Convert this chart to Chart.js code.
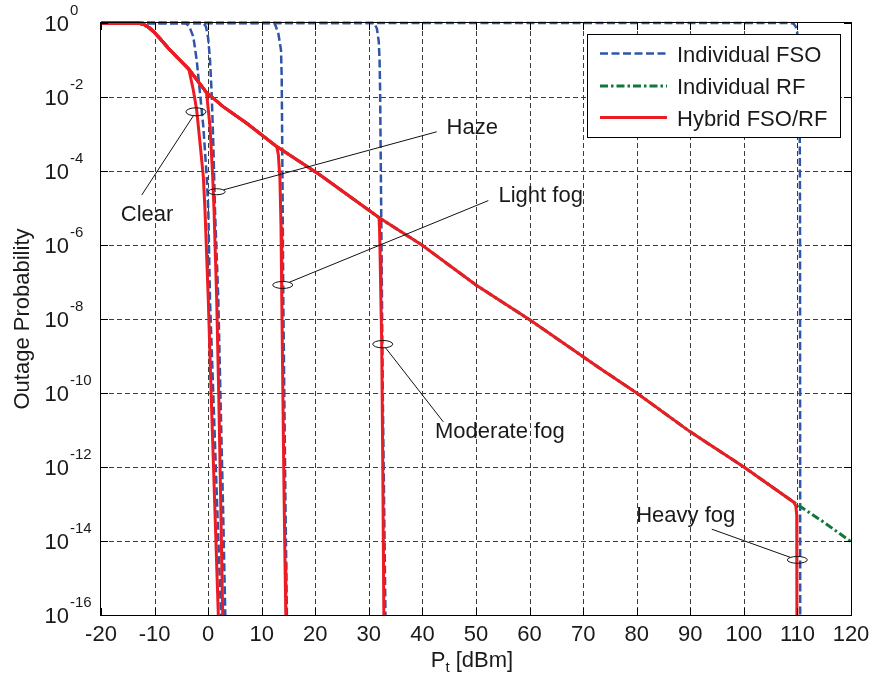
<!DOCTYPE html>
<html>
<head>
<meta charset="utf-8">
<script src="https://cdn.jsdelivr.net/npm/chart.js@4.4.0/dist/chart.umd.min.js"></script>
<style>
  html, body { margin: 0; padding: 0; background: #fff; }
  #wrap { width: 874px; height: 686px; }
</style>
</head>
<body>
<div id="wrap"><canvas id="outageChart" width="874" height="686"></canvas></div>
<script>
// axis ticks: transmit power [dBm] and outage probability exponents
var xTicks = [-20, -10, 0, 10, 20, 30, 40, 50, 60, 70, 80, 90, 100, 110, 120];
var yExpTicks = [0, -2, -4, -6, -8, -10, -12, -14, -16];

var seriesNames = ['Individual FSO', 'Individual RF', 'Hybrid FSO/RF'];

// individual RF link, log10(outage) vs Pt
var rfX   = [-20, -13, -12, -11, -10.2, -9, -7.5, -5.9, -3.6, -0.3, 2.8, 7.2, 12.8, 20.9, 32.1, 39.9, 50, 60.1, 73.1, 80, 90, 100, 109.3, 115, 120];
var rfExp = [0, 0, -0.04, -0.13, -0.23, -0.42, -0.67, -0.91, -1.25, -1.88, -2.26, -2.71, -3.34, -4.11, -5.28, -6.0, -7.08, -8.03, -9.33, -10.0, -11.05, -12.0, -12.95, -13.5, -14.02];

// individual FSO link, one curve per weather condition
var fsoClearX   = [-20, -4.2, -3.5, -2.77, -2.14, -1.52, -0.9, -0.27, 0.03, 0.35, 1.0, 1.7, 2.4];
var fsoClearExp = [0, 0, -0.1, -0.37, -1.0, -1.9, -2.8, -4.15, -5.05, -7.49, -10.2, -13.1, -16];
var fsoHazeX    = [-20, -0.9, -0.4, 0.0, 0.35, 0.66, 0.96, 1.28, 1.9, 2.35, 2.8, 3.2];
var fsoHazeExp  = [0, 0, -0.1, -0.4, -1.0, -1.9, -3.25, -5.05, -7.49, -10.4, -13.2, -16];
var fsoLightX   = [-20, 12.4, 13.1, 13.6, 13.73, 13.92, 14.03, 14.25, 14.45, 14.7];
var fsoLightExp = [0, 0, -0.28, -0.73, -1.45, -5.05, -7.49, -10.5, -13.2, -16];
var fsoModX     = [-20, 31.0, 31.5, 31.85, 32.0, 32.1, 32.3, 32.6, 32.85, 33.1];
var fsoModExp   = [0, 0, -0.15, -0.5, -1.0, -1.8, -5.0, -10.0, -13.0, -16];
var fsoHeavyX   = [-20, 108.8, 109.3, 109.7, 109.98, 110.25, 110.4, 110.48, 110.52];
var fsoHeavyExp = [0, 0, -0.02, -0.1, -0.28, -0.7, -1.5, -5, -16];

// hybrid link: follows the RF curve, then drops where the FSO link takes over
var hybClearX   = [-3.6, -2.77, -2.14, -1.52, -0.9, -0.59, 0.03, 0.6, 1.25, 1.9];
var hybClearExp = [-1.25, -1.81, -2.35, -3.24, -4.15, -5.05, -7.49, -10.2, -13.1, -16];
var hybHazeX    = [-0.3, 0.35, 0.85, 1.1, 1.6, 2.0, 2.35, 2.72];
var hybHazeExp  = [-1.88, -2.8, -4.15, -5.05, -7.49, -10.2, -13.0, -16];
var hybLightX   = [12.8, 13.1, 13.4, 13.6, 13.75, 13.95, 14.15, 14.35, 14.5];
var hybLightExp = [-3.34, -3.55, -4.2, -5.5, -7.5, -10.0, -12.5, -14.6, -16];
var hybModX     = [31.9, 32.0, 32.1, 32.25, 32.4, 32.6, 32.8];
var hybModExp   = [-5.26, -5.6, -6.3, -7.5, -8.66, -12.0, -16];
var hybHeavyX   = [109.3, 109.7, 109.87, 109.9];
var hybHeavyExp = [-12.95, -13.05, -13.3, -16];

// callouts: ellipse centre, leader end, label anchor (x in dBm, y as exponent)
var notes = [
  { text: 'Clear',        cx: -2.27, ce: -2.40,  rx: 10,  ry: 4,   lx: -12.4, le: -4.65,  tx: -11.4, te: -5.35,  align: 'center' },
  { text: 'Haze',         cx: 1.60,  ce: -4.56,  rx: 8.5, ry: 3,   lx: 42.67, le: -2.94,  tx: 44.5,  te: -3.0,   align: 'left' },
  { text: 'Light fog',    cx: 13.92, ce: -7.08,  rx: 10,  ry: 3.5, lx: 52.3,  le: -4.80,  tx: 54.2,  te: -4.85,  align: 'left' },
  { text: 'Moderate fog', cx: 32.59, ce: -8.68,  rx: 10,  ry: 3.7, lx: 43.9,  le: -10.78, tx: 42.35, te: -11.22, align: 'left' },
  { text: 'Heavy fog',    cx: 109.98, ce: -14.51, rx: 10, ry: 3.4, lx: 94.0,  le: -13.68, tx: 79.9,  te: -13.49, align: 'left' }
];

var FONT = '"Liberation Sans", Arial, Helvetica, sans-serif';
var TEXT = '#1a1a1a';
var BLUE = '#2f55a9';
var GREEN = '#12783a';
var RED = '#ec1c24';
var blueDash = [8, 3.5];
var greenDash = [8, 3, 2.5, 3];

function toPoints(xs, es) {
  var pts = [];
  for (var i = 0; i < xs.length; i++) {
    pts.push({ x: xs[i], y: Math.pow(10, es[i]) });
  }
  return pts;
}

function hybrid(xs, es) {
  var pts = [];
  for (var i = 0; i < rfX.length; i++) {
    if (rfX[i] < xs[0]) pts.push({ x: rfX[i], y: Math.pow(10, rfExp[i]) });
  }
  return pts.concat(toPoints(xs, es));
}

function redSet(xs, es) {
  return { label: seriesNames[2], data: hybrid(xs, es), borderColor: RED, borderWidth: 3, clip: { left: 0, top: 4, right: 0, bottom: 0 } };
}
function blueSet(xs, es) {
  return { label: seriesNames[0], data: toPoints(xs, es), borderColor: BLUE, borderWidth: 2.5, borderDash: blueDash, clip: { left: 0, top: 4, right: 0, bottom: 0 } };
}

// first dataset ends up on top
var datasets = [
  redSet(hybClearX, hybClearExp),
  redSet(hybHazeX, hybHazeExp),
  redSet(hybLightX, hybLightExp),
  redSet(hybModX, hybModExp),
  redSet(hybHeavyX, hybHeavyExp),
  { label: seriesNames[1], data: toPoints(rfX, rfExp), borderColor: GREEN, borderWidth: 3, borderDash: greenDash, clip: { left: 0, top: 4, right: 0, bottom: 0 } },
  blueSet(fsoClearX, fsoClearExp),
  blueSet(fsoHazeX, fsoHazeExp),
  blueSet(fsoLightX, fsoLightExp),
  blueSet(fsoModX, fsoModExp),
  blueSet(fsoHeavyX, fsoHeavyExp)
];

var paperPlugin = {
  id: 'paper',
  beforeDatasetsDraw: function (chart) {
    var ctx = chart.ctx, a = chart.chartArea;
    var xs = chart.scales.x, ys = chart.scales.y;
    ctx.save();
    ctx.strokeStyle = '#3c3c3c';
    ctx.lineWidth = 1;
    ctx.setLineDash([5, 3]);
    xTicks.forEach(function (v) {
      var px = Math.round(xs.getPixelForValue(v)) + 0.5;
      if (v === xTicks[0] || v === xTicks[xTicks.length - 1]) return;
      ctx.beginPath(); ctx.moveTo(px, a.top); ctx.lineTo(px, a.bottom); ctx.stroke();
    });
    yExpTicks.forEach(function (e) {
      var py = Math.round(ys.getPixelForValue(Math.pow(10, e))) + 0.5;
      if (e === 0 || e === -16) return;
      ctx.beginPath(); ctx.moveTo(a.left, py); ctx.lineTo(a.right, py); ctx.stroke();
    });
    ctx.restore();
  },
  afterDatasetsDraw: function (chart) {
    var ctx = chart.ctx, a = chart.chartArea;
    var xs = chart.scales.x, ys = chart.scales.y;
    ctx.save();

    // axes box with inward ticks
    ctx.strokeStyle = '#000';
    ctx.lineWidth = 1;
    ctx.setLineDash([]);
    ctx.strokeRect(a.left - 0.5, a.top - 0.5, a.right - a.left + 1, a.bottom - a.top + 1);
    ctx.beginPath();
    xTicks.forEach(function (v) {
      var px = Math.round(xs.getPixelForValue(v)) + 0.5;
      ctx.moveTo(px, a.bottom); ctx.lineTo(px, a.bottom - 7);
      ctx.moveTo(px, a.top); ctx.lineTo(px, a.top + 7);
    });
    yExpTicks.forEach(function (e) {
      var py = Math.round(ys.getPixelForValue(Math.pow(10, e))) + 0.5;
      ctx.moveTo(a.left, py); ctx.lineTo(a.left + 7, py);
      ctx.moveTo(a.right, py); ctx.lineTo(a.right - 7, py);
    });
    ctx.stroke();

    // tick labels
    ctx.fillStyle = TEXT;
    ctx.textBaseline = 'alphabetic';
    ctx.font = '22px ' + FONT;
    ctx.textAlign = 'center';
    xTicks.forEach(function (v) {
      ctx.fillText(String(v), xs.getPixelForValue(v), a.bottom + 26);
    });
    yExpTicks.forEach(function (e) {
      var py = ys.getPixelForValue(Math.pow(10, e));
      ctx.font = '22px ' + FONT;
      ctx.textAlign = 'right';
      ctx.fillText('10', 69, py + 8);
      ctx.font = '15px ' + FONT;
      ctx.textAlign = 'left';
      ctx.fillText(String(e), 70, py - 8);
    });

    // axis titles
    ctx.font = '22px ' + FONT;
    ctx.save();
    ctx.translate(29, (a.top + a.bottom) / 2);
    ctx.rotate(-Math.PI / 2);
    ctx.textAlign = 'center';
    ctx.fillText('Outage Probability', 0, 0);
    ctx.restore();

    var wP = ctx.measureText('P').width;
    ctx.font = '15px ' + FONT;
    var wt = ctx.measureText('t').width;
    ctx.font = '22px ' + FONT;
    var wRest = ctx.measureText(' [dBm]').width;
    var x0 = (a.left + a.right) / 2 - (wP + wt + wRest) / 2 - 4;
    var by = 667;
    ctx.textAlign = 'left';
    ctx.fillText('P', x0, by);
    ctx.font = '15px ' + FONT;
    ctx.fillText('t', x0 + wP, by + 5);
    ctx.font = '22px ' + FONT;
    ctx.fillText(' [dBm]', x0 + wP + wt, by);

    // callouts
    ctx.strokeStyle = '#111';
    ctx.lineWidth = 1;
    notes.forEach(function (n) {
      var cx = xs.getPixelForValue(n.cx), cy = ys.getPixelForValue(Math.pow(10, n.ce));
      var lx = xs.getPixelForValue(n.lx), ly = ys.getPixelForValue(Math.pow(10, n.le));
      ctx.beginPath();
      ctx.ellipse(cx, cy, n.rx, n.ry, 0, 0, Math.PI * 2);
      ctx.stroke();
      var t = Math.atan2((ly - cy) / n.ry, (lx - cx) / n.rx);
      ctx.beginPath();
      ctx.moveTo(cx + n.rx * Math.cos(t), cy + n.ry * Math.sin(t));
      ctx.lineTo(lx, ly);
      ctx.stroke();
      ctx.font = '22px ' + FONT;
      ctx.textAlign = n.align;
      ctx.fillText(n.text, xs.getPixelForValue(n.tx), ys.getPixelForValue(Math.pow(10, n.te)));
    });

    // legend
    var bx = 587, bt = 34, bw = 253, bh = 103;
    ctx.fillStyle = '#fff';
    ctx.fillRect(bx, bt, bw, bh);
    ctx.strokeStyle = '#000';
    ctx.strokeRect(bx + 0.5, bt + 0.5, bw, bh);
    var rows = [
      { name: seriesNames[0], color: BLUE, dash: blueDash, width: 2.5, y: 53.5 },
      { name: seriesNames[1], color: GREEN, dash: greenDash, width: 3, y: 86 },
      { name: seriesNames[2], color: RED, dash: [], width: 3, y: 117.5 }
    ];
    rows.forEach(function (r) {
      ctx.strokeStyle = r.color;
      ctx.lineWidth = r.width;
      ctx.setLineDash(r.dash);
      ctx.beginPath(); ctx.moveTo(600, r.y); ctx.lineTo(667, r.y); ctx.stroke();
      ctx.setLineDash([]);
      ctx.fillStyle = TEXT;
      ctx.font = '22px ' + FONT;
      ctx.textAlign = 'left';
      ctx.fillText(r.name, 677, r.y + 8);
    });
    ctx.restore();
  }
};

new Chart(document.getElementById('outageChart').getContext('2d'), {
  type: 'line',
  data: { datasets: datasets },
  options: {
    responsive: false,
    animation: false,
    devicePixelRatio: 1,
    layout: { padding: { top: 23, right: 23, left: 0, bottom: 0 } },
    plugins: { legend: { display: false }, tooltip: { enabled: false } },
    elements: { point: { radius: 0 }, line: { tension: 0, borderCapStyle: 'butt' } },
    scales: {
      x: {
        type: 'linear', min: -20, max: 120,
        ticks: { display: false }, grid: { display: false }, border: { display: false },
        afterFit: function (s) { s.height = 71; }
      },
      y: {
        type: 'logarithmic', min: 1e-16, max: 1,
        ticks: { display: false }, grid: { display: false }, border: { display: false },
        afterFit: function (s) { s.width = 101; }
      }
    }
  },
  plugins: [paperPlugin]
});
</script>
</body>
</html>
